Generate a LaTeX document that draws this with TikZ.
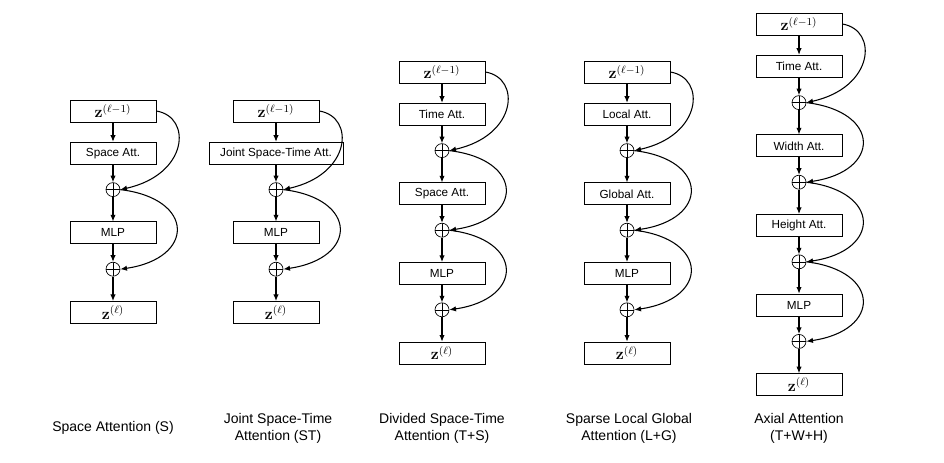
\documentclass[tikz,border=0pt]{standalone}
\usepackage[no-math]{fontspec}
\setmainfont{Liberation Sans}
\usetikzlibrary{positioning,arrows.meta,calc}

\begin{document}
\begin{tikzpicture}[
        x=0.75pt, y=-0.75pt,
        font=\fontsize{8.8}{12.75}\selectfont,
        block/.style={rectangle, draw, line width=0.6pt, text centered, minimum height=16.5pt, minimum width=64.5pt, inner sep=1pt},
        zblock/.style={block, font=\fontsize{11.5}{12}\selectfont},
        add/.style={circle, draw, line width=0.5pt, minimum size=10.5pt, inner sep=0pt,
            path picture={\draw[line width=0.4pt] (path picture bounding box.north) -- (path picture bounding box.south)
                (path picture bounding box.west) -- (path picture bounding box.east);}},
        line/.style={draw, -{Latex[length=5pt,width=4pt]}, line width=0.8pt},
        caption/.style={align=center, font=\fontsize{10.5}{12.75}\selectfont}
    ]
    \useasboundingbox (0,0) rectangle (944,462);

    % Space Attention (S)
    \node[zblock] (s_in) at (113,111) {$\mathbf{z}^{(\ell-1)}$};
    \node[block, below=14.6pt of s_in] (s_att) {Space Att.};
    \node[add, below=13.2pt of s_att] (s_add1) {};
    \node[block, below=18.4pt of s_add1] (s_mlp) {MLP};
    \node[add, below=13.2pt of s_mlp] (s_add2) {};
    \node[zblock, below=18.4pt of s_add2] (s_out) {$\mathbf{z}^{(\ell)}$};
    \node[caption] (s_cap) at (113,428) {Space Attention (S)};

    \path[line] (s_in) -- (s_att);
    \path[line] (s_att) -- (s_add1);
    \path[line] (s_add1) -- (s_mlp);
    \path[line] (s_mlp) -- (s_add2);
    \path[line] (s_add2) -- (s_out);
    \path[line] (s_in.east) .. controls +(36,6) and +(68,-15) .. (s_add1.east);
    \path[line] (s_add1.east) .. controls +(75,9) and +(75,-11) .. (s_add2.east);

    % Joint Space-Time Attention (ST)
    \node[zblock] (st_in) at (276,111) {$\mathbf{z}^{(\ell-1)}$};
    \node[block, minimum width=100.5pt, below=14.6pt of st_in] (st_att) {Joint Space-Time Att.};
    \node[add, below=13.2pt of st_att] (st_add1) {};
    \node[block, below=18.4pt of st_add1] (st_mlp) {MLP};
    \node[add, below=13.2pt of st_mlp] (st_add2) {};
    \node[zblock, below=18.4pt of st_add2] (st_out) {$\mathbf{z}^{(\ell)}$};
    \node[caption] (st_cap) at (278,428) {Joint Space-Time\\Attention (ST)};

    \path[line] (st_in) -- (st_att);
    \path[line] (st_att) -- (st_add1);
    \path[line] (st_add1) -- (st_mlp);
    \path[line] (st_mlp) -- (st_add2);
    \path[line] (st_add2) -- (st_out);
    \path[line] (st_in.east) .. controls +(36,6) and +(68,-15) .. (st_add1.east);
    \path[line] (st_add1.east) .. controls +(75,9) and +(75,-11) .. (st_add2.east);

    % Divided Space-Time Attention (T+S)
    \node[zblock] (ts_in) at (442,72) {$\mathbf{z}^{(\ell-1)}$};
    \node[block, below=14.6pt of ts_in] (ts_time) {Time Att.};
    \node[add, below=13.2pt of ts_time] (ts_add1) {};
    \node[block, below=18.4pt of ts_add1] (ts_space) {Space Att.};
    \node[add, below=13.2pt of ts_space] (ts_add2) {};
    \node[block, below=18.4pt of ts_add2] (ts_mlp) {MLP};
    \node[add, below=13.2pt of ts_mlp] (ts_add3) {};
    \node[zblock, below=18.4pt of ts_add3] (ts_out) {$\mathbf{z}^{(\ell)}$};
    \node[caption] (ts_cap) at (442,428) {Divided Space-Time\\Attention (T+S)};

    \path[line] (ts_in) -- (ts_time);
    \path[line] (ts_time) -- (ts_add1);
    \path[line] (ts_add1) -- (ts_space);
    \path[line] (ts_space) -- (ts_add2);
    \path[line] (ts_add2) -- (ts_mlp);
    \path[line] (ts_mlp) -- (ts_add3);
    \path[line] (ts_add3) -- (ts_out);
    \path[line] (ts_in.east) .. controls +(36,6) and +(68,-15) .. (ts_add1.east);
    \path[line] (ts_add1.east) .. controls +(75,9) and +(75,-11) .. (ts_add2.east);
    \path[line] (ts_add2.east) .. controls +(75,9) and +(75,-11) .. (ts_add3.east);

    % Sparse Local Global Attention (L+G)
    \node[zblock] (lg_in) at (627,72) {$\mathbf{z}^{(\ell-1)}$};
    \node[block, below=14.6pt of lg_in] (lg_local) {Local Att.};
    \node[add, below=13.2pt of lg_local] (lg_add1) {};
    \node[block, below=18.4pt of lg_add1] (lg_global) {Global Att.};
    \node[add, below=13.2pt of lg_global] (lg_add2) {};
    \node[block, below=18.4pt of lg_add2] (lg_mlp) {MLP};
    \node[add, below=13.2pt of lg_mlp] (lg_add3) {};
    \node[zblock, below=18.4pt of lg_add3] (lg_out) {$\mathbf{z}^{(\ell)}$};
    \node[caption] (lg_cap) at (629,428) {Sparse Local Global\\Attention (L+G)};

    \path[line] (lg_in) -- (lg_local);
    \path[line] (lg_local) -- (lg_add1);
    \path[line] (lg_add1) -- (lg_global);
    \path[line] (lg_global) -- (lg_add2);
    \path[line] (lg_add2) -- (lg_mlp);
    \path[line] (lg_mlp) -- (lg_add3);
    \path[line] (lg_add3) -- (lg_out);
    \path[line] (lg_in.east) .. controls +(36,6) and +(68,-15) .. (lg_add1.east);
    \path[line] (lg_add1.east) .. controls +(75,9) and +(75,-11) .. (lg_add2.east);
    \path[line] (lg_add2.east) .. controls +(75,9) and +(75,-11) .. (lg_add3.east);

    % Axial Attention (T+W+H)
    \node[zblock] (ax_in) at (799,24) {$\mathbf{z}^{(\ell-1)}$};
    \node[block, below=14.6pt of ax_in] (ax_time) {Time Att.};
    \node[add, below=13.2pt of ax_time] (ax_add1) {};
    \node[block, below=18.4pt of ax_add1] (ax_width) {Width Att.};
    \node[add, below=13.2pt of ax_width] (ax_add2) {};
    \node[block, below=18.4pt of ax_add2] (ax_height) {Height Att.};
    \node[add, below=13.2pt of ax_height] (ax_add3) {};
    \node[block, below=18.4pt of ax_add3] (ax_mlp) {MLP};
    \node[add, below=13.2pt of ax_mlp] (ax_add4) {};
    \node[zblock, below=18.4pt of ax_add4] (ax_out) {$\mathbf{z}^{(\ell)}$};
    \node[caption] (ax_cap) at (799,428) {Axial Attention\\(T+W+H)};

    \path[line] (ax_in) -- (ax_time);
    \path[line] (ax_time) -- (ax_add1);
    \path[line] (ax_add1) -- (ax_width);
    \path[line] (ax_width) -- (ax_add2);
    \path[line] (ax_add2) -- (ax_height);
    \path[line] (ax_height) -- (ax_add3);
    \path[line] (ax_add3) -- (ax_mlp);
    \path[line] (ax_mlp) -- (ax_add4);
    \path[line] (ax_add4) -- (ax_out);
    \path[line] (ax_in.east) .. controls +(36,6) and +(68,-15) .. (ax_add1.east);
    \path[line] (ax_add1.east) .. controls +(75,9) and +(75,-11) .. (ax_add2.east);
    \path[line] (ax_add2.east) .. controls +(75,9) and +(75,-11) .. (ax_add3.east);
    \path[line] (ax_add3.east) .. controls +(75,9) and +(75,-11) .. (ax_add4.east);

\end{tikzpicture}
\end{document}
